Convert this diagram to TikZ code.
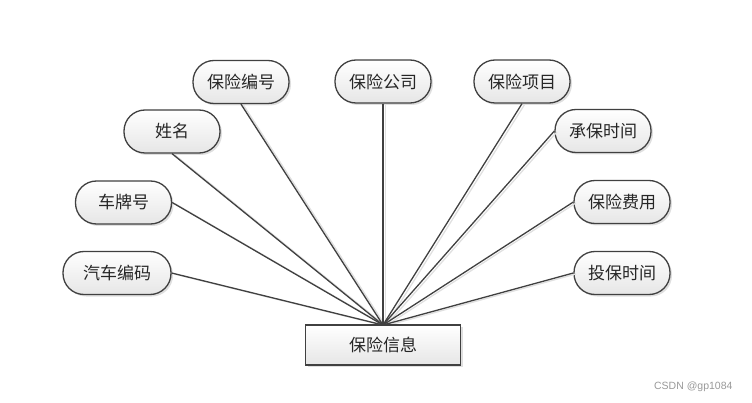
\documentclass[tikz,border=0pt]{standalone}
\usepackage{fontspec}
\newfontfamily\cjk{Noto Sans CJK SC}
\setmainfont{Liberation Sans}
\usetikzlibrary{shadows}
\definecolor{edgecol}{HTML}{404040}
\definecolor{fillbot}{HTML}{E6E6E6}
\tikzset{
  attr/.style={draw=edgecol, line width=1.3pt, rounded corners=21pt,
    minimum width=96pt, minimum height=43pt, inner sep=0pt,
    top color=white, bottom color=fillbot,
    drop shadow={shadow xshift=2pt, shadow yshift=-2pt, opacity=0.25, fill=gray},
    font=\cjk\fontsize{17pt}{19pt}\selectfont, text=black!85},
  entity/.style={draw=edgecol, line width=1.3pt,
    minimum width=155pt, minimum height=40pt, inner sep=0pt,
    top color=white, bottom color=fillbot,
    drop shadow={shadow xshift=2pt, shadow yshift=-2pt, opacity=0.25, fill=gray},
    font=\cjk\fontsize{17pt}{19pt}\selectfont, text=black!85},
  link/.style={draw=edgecol, line width=1.3pt},
  linkshadow/.style={draw=black!12, line width=1.3pt, transform canvas={xshift=2.5pt,yshift=-1pt}}
}
\begin{document}
\begin{tikzpicture}[x=1pt,y=-1pt]
\useasboundingbox (0,0) rectangle (752,403);
\node[attr] (a1) at (241,82) {保险编号};
\node[attr] (a2) at (383,81.5) {保险公司};
\node[attr] (a3) at (522,81.5) {保险项目};
\node[attr] (a4) at (172,131.5) {姓名};
\node[attr] (a5) at (603,131) {承保时间};
\node[attr] (a6) at (123.5,202.5) {车牌号};
\node[attr] (a7) at (622,202) {保险费用};
\node[attr, minimum width=108pt] (a8) at (117,273) {汽车编码};
\node[attr] (a9) at (622,273) {投保时间};
\coordinate (hub) at (383,325);
\foreach \n/\an in {a1/south,a2/south,a3/south,a4/south,a5/west,a6/east,a7/west,a8/east,a9/west}
  \draw[linkshadow] (\n.\an) -- (hub);
\foreach \n/\an in {a1/south,a2/south,a3/south,a4/south,a5/west,a6/east,a7/west,a8/east,a9/west}
  \draw[link] (\n.\an) -- (hub);
\node[entity] (e) at (383,345) {保险信息};
\node[text=gray!80, font=\fontsize{10.5pt}{12pt}\selectfont, anchor=east] (wm) at (736,387) {CSDN @gp1084};
\end{tikzpicture}
\end{document}
